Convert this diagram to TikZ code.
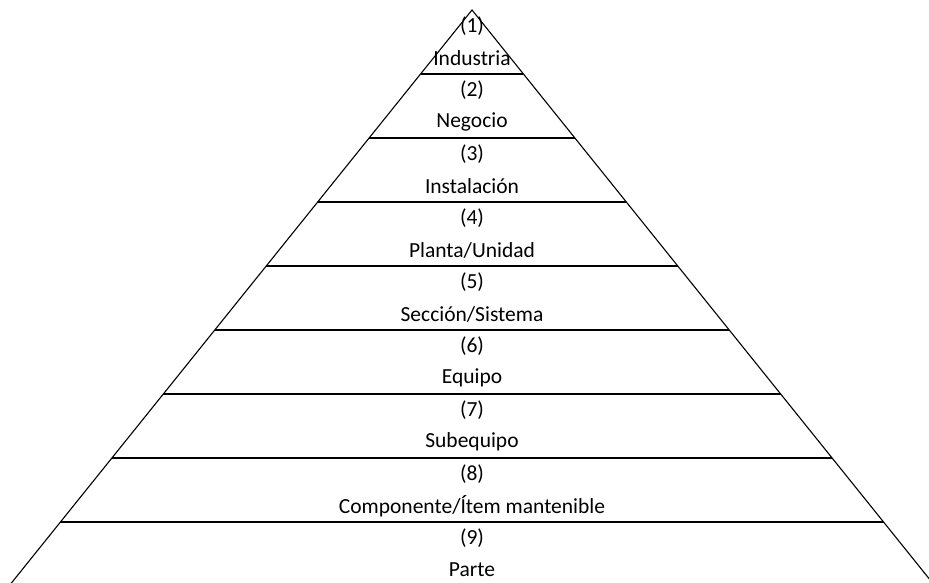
\documentclass[tikz,border=0pt]{standalone}
\usepackage{fontspec}
\setmainfont{Carlito}
\usetikzlibrary{calc}

\tikzset{
  lvl/.style={font=\fontsize{21.5}{24}\selectfont, inner sep=0pt},
  sep/.style={black, line width=1.1pt}
}

\begin{document}
\begin{tikzpicture}[x=1pt,y=-1pt]

\useasboundingbox (0,0) rectangle (929,582);
\clip (0,0) rectangle (929,582);

\coordinate (apex) at (472,10);
\coordinate (bl) at (9,586);
\coordinate (br) at (935,586);

\draw[sep] (bl) -- (apex) -- (br);

% separating lines between levels
\draw[sep] ($(apex)!1/9!(bl)$) -- ($(apex)!1/9!(br)$);
\draw[sep] ($(apex)!2/9!(bl)$) -- ($(apex)!2/9!(br)$);
\draw[sep] ($(apex)!3/9!(bl)$) -- ($(apex)!3/9!(br)$);
\draw[sep] ($(apex)!4/9!(bl)$) -- ($(apex)!4/9!(br)$);
\draw[sep] ($(apex)!5/9!(bl)$) -- ($(apex)!5/9!(br)$);
\draw[sep] ($(apex)!6/9!(bl)$) -- ($(apex)!6/9!(br)$);
\draw[sep] ($(apex)!7/9!(bl)$) -- ($(apex)!7/9!(br)$);
\draw[sep] ($(apex)!8/9!(bl)$) -- ($(apex)!8/9!(br)$);

\node[lvl] (n1) at (472,26) {(1)};
\node[lvl] (t1) at (472,58) {Industria};
\node[lvl] (n2) at (472,90) {(2)};
\node[lvl] (t2) at (472,122) {Negocio};
\node[lvl] (n3) at (472,154) {(3)};
\node[lvl] (t3) at (472,186) {Instalación};
\node[lvl] (n4) at (472,218) {(4)};
\node[lvl] (t4) at (472,250) {Planta/Unidad};
\node[lvl] (n5) at (472,282) {(5)};
\node[lvl] (t5) at (472,314) {Sección/Sistema};
\node[lvl] (n6) at (472,346) {(6)};
\node[lvl] (t6) at (472,378) {Equipo};
\node[lvl] (n7) at (472,410) {(7)};
\node[lvl] (t7) at (472,442) {Subequipo};
\node[lvl] (n8) at (472,474) {(8)};
\node[lvl] (t8) at (472,506) {Componente/Ítem mantenible};
\node[lvl] (n9) at (472,538) {(9)};
\node[lvl] (t9) at (472,570) {Parte};

\end{tikzpicture}
\end{document}
